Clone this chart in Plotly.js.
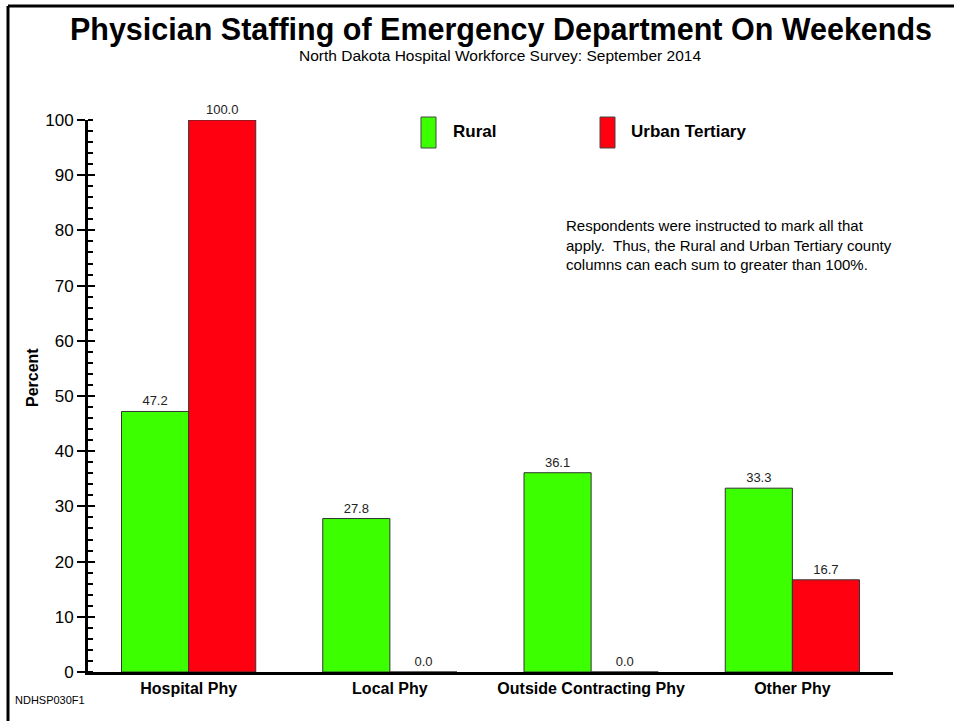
<!DOCTYPE html>
<html>
<head>
<meta charset="utf-8">
<script src="https://cdn.plot.ly/plotly-3.0.1.min.js"></script>
<style>html,body{margin:0;padding:0;background:#fff;}#chart{width:954px;height:721px;}</style>
</head>
<body>
<div id="chart"></div>
<script>
const categories = ["Hospital Phy", "Local Phy", "Outside Contracting Phy", "Other Phy"];
const rural = [47.2, 27.8, 36.1, 33.3];
const urbanTertiary = [100.0, 0.0, 0.0, 16.7];
const seriesNames = ["Rural", "Urban Tertiary"];
const yTicks = [0, 10, 20, 30, 40, 50, 60, 70, 80, 90, 100];

const FONT = "Liberation Sans, Arial, Helvetica, sans-serif";
const GREEN = "#3cff00";
const RED = "#ff0010";

const L = 88, R = 893, T = 120, B = 672;
const px = v => (v - L) / (R - L);
const py = v => (B - v) / (B - T);

function barTrace(name, vals, color) {
  return {
    type: "bar", name: name, x: categories, y: vals,
    marker: {color: color, line: {color: "#333", width: 1}},
    text: vals.map(v => v.toFixed(1)), textposition: "outside",
    textfont: {family: FONT, size: 13, color: "#222"},
    cliponaxis: false, constraintext: "none", hoverinfo: "none", showlegend: false
  };
}

const data = [
  barTrace(seriesNames[0], rural, GREEN),
  barTrace(seriesNames[1], urbanTertiary, RED),
  {type: "scatter", x: [categories[0]], y: [0], yaxis: "y2", mode: "markers",
   marker: {opacity: 0}, showlegend: false, hoverinfo: "none"}
];

const layout = {
  width: 954, height: 721,
  margin: {l: L, r: 954 - R, t: T, b: 721 - B, pad: 0},
  paper_bgcolor: "#fff", plot_bgcolor: "#fff",
  barmode: "group", bargap: 0.333, bargroupgap: 0,
  font: {family: FONT, color: "#000"},
  title: {text: "<b>Physician Staffing of Emergency Department On Weekends</b>",
          font: {family: FONT, size: 30.5, color: "#000"},
          x: 501 / 954, xanchor: "center", y: 1 - 29 / 721, yanchor: "middle", yref: "container", xref: "container"},
  xaxis: {
    type: "category", range: [-0.5, 3.5], showgrid: false, zeroline: false,
    showline: true, linecolor: "#000", linewidth: 3, ticks: "",
    tickfont: {family: FONT, size: 16, weight: "bold", color: "#000"},
    fixedrange: true
  },
  yaxis: {
    range: [0, 100], tickvals: yTicks, ticktext: yTicks.map(String),
    showgrid: false, zeroline: false,
    showline: true, linecolor: "#000", linewidth: 3,
    ticks: "outside", ticklen: 8, tickwidth: 2, tickcolor: "#000",
    minor: {dtick: 2, ticks: "inside", ticklen: 5, tickwidth: 2, tickcolor: "#000", showgrid: false},
    tickfont: {family: FONT, size: 17, color: "#000"},
    fixedrange: true
  },
  yaxis2: {
    overlaying: "y", range: [0, 100], tickvals: yTicks, showticklabels: false,
    ticks: "inside", ticklen: 7, tickwidth: 2, tickcolor: "#000",
    showgrid: false, zeroline: false, showline: false, fixedrange: true
  },
  shapes: [
    {type: "line", xref: "paper", yref: "paper", x0: px(8), x1: px(960), y0: py(6), y1: py(6), line: {color: "#000", width: 3}},
    {type: "line", xref: "paper", yref: "paper", x0: px(8), x1: px(8), y0: py(6), y1: py(730), line: {color: "#000", width: 3}},
    {type: "rect", xref: "paper", yref: "paper", x0: px(421), x1: px(436), y0: py(117), y1: py(148), fillcolor: GREEN, line: {color: "#444", width: 1}},
    {type: "rect", xref: "paper", yref: "paper", x0: px(600), x1: px(615), y0: py(117), y1: py(148), fillcolor: RED, line: {color: "#444", width: 1}}
  ],
  annotations: [
    {text: "North Dakota Hospital Workforce Survey: September 2014", xref: "paper", yref: "paper",
     x: px(500), y: py(55), xanchor: "center", yanchor: "middle", showarrow: false,
     font: {family: FONT, size: 15.5, color: "#000"}},
    {text: "<b>" + seriesNames[0] + "</b>", xref: "paper", yref: "paper", x: px(451), y: py(131),
     xanchor: "left", yanchor: "middle", showarrow: false, font: {family: FONT, size: 17, color: "#000"}},
    {text: "<b>" + seriesNames[1] + "</b>", xref: "paper", yref: "paper", x: px(629), y: py(131),
     xanchor: "left", yanchor: "middle", showarrow: false, font: {family: FONT, size: 17, color: "#000"}},
    {text: "Respondents were instructed to mark all that<br>apply.  Thus, the Rural and Urban Tertiary county<br>columns can each sum to greater than 100%.",
     xref: "paper", yref: "paper", x: px(564), y: py(245), xanchor: "left", yanchor: "middle", align: "left",
     showarrow: false, font: {family: FONT, size: 15, color: "#000"}},
    {text: "<b>Percent</b>", xref: "paper", yref: "paper", x: px(32), y: py(378), textangle: -90,
     xanchor: "center", yanchor: "middle", showarrow: false, font: {family: FONT, size: 16, color: "#000"}},
    {text: "NDHSP030F1", xref: "paper", yref: "paper", x: px(13), y: py(700), xanchor: "left", yanchor: "middle",
     showarrow: false, font: {family: FONT, size: 11, color: "#000"}}
  ]
};

Plotly.newPlot("chart", data, layout, {displayModeBar: false, staticPlot: true});
</script>
</body>
</html>
